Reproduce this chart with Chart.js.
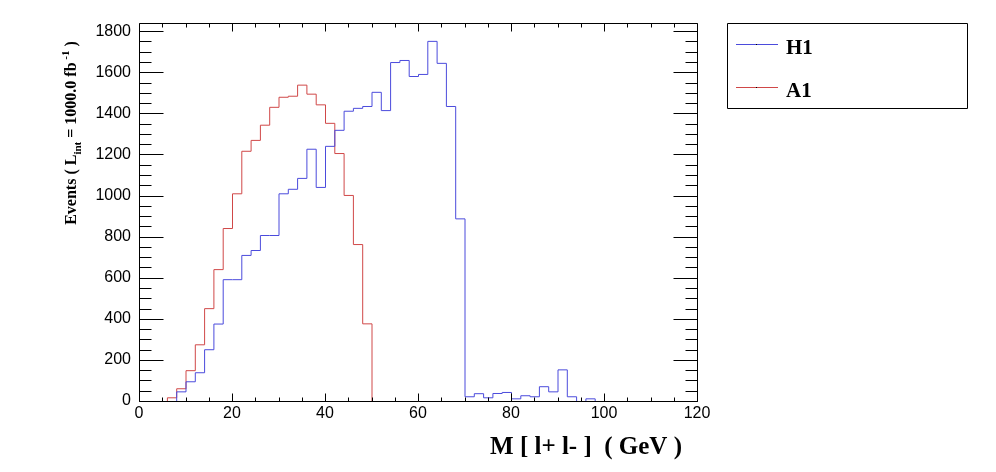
<!DOCTYPE html>
<html>
<head>
<meta charset="utf-8">
<script src="https://cdn.jsdelivr.net/npm/chart.js@4.4.1/dist/chart.umd.min.js"></script>
<style>
html,body{margin:0;padding:0;background:#fff;}
#wrap{width:996px;height:472px;position:relative;}
</style>
</head>
<body>
<div id="wrap"><canvas id="c" width="996" height="472"></canvas></div>
<script>
// Bin lower edges (GeV), bin width 2
const binLow = [0,2,4,6,8,10,12,14,16,18,20,22,24,26,28,30,32,34,36,38,40,42,44,46,48,50,52,54,56,58,
                60,62,64,66,68,70,72,74,76,78,80,82,84,86,88,90,92,94,96,98,100,102,104,106,108,110,112,114,116,118];
const xUpper = 120;
// H1 events per bin
const h1Values = [0,0,0,0,47,96,140,252,377,593,593,711,735,808,808,1011,1033,1086,1228,1042,
                  1242,1320,1413,1427,1436,1505,1416,1650,1660,1582,1592,1753,1646,1436,889,23,38,18,39,44,
                  13,28,23,72,47,154,23,0,13,0,0,0,0,0,0,0,0,0,0,0];
// A1 events per bin
const a1Values = [0,0,0,18,62,150,276,452,642,842,1011,1218,1271,1345,1432,1481,1486,1540,1496,1444,
                  1354,1207,1003,764,378,0,0,0,0,0,0,0,0,0,0,0,0,0,0,0,
                  0,0,0,0,0,0,0,0,0,0,0,0,0,0,0,0,0,0,0,0];
const seriesNames = ["H1","A1"];
const xTickValues = [0,20,40,60,80,100,120];
const yTickValues = [0,200,400,600,800,1000,1200,1400,1600,1800];
const yMax = 1840;

const colors = ["#4b4bdc","#d04848"];

function toSteps(vals){
  const pts = binLow.map((x,i)=>({x:x,y:vals[i]}));
  pts.push({x:xUpper,y:vals[vals.length-1]});
  return pts;
}

const crispPlugin = {
  id:'crisp',
  beforeDatasetsDraw(chart){ chart.ctx.save(); chart.ctx.translate(0.5,0.5); },
  afterDatasetsDraw(chart){ chart.ctx.restore(); }
};

const framePlugin = {
  id:'frame',
  afterDraw(chart){
    const ctx = chart.ctx;
    const a = chart.chartArea;
    const xs = chart.scales.x, ys = chart.scales.y;
    const L = Math.round(a.left)+0.5, R = Math.round(a.right)+0.5, T = Math.round(a.top)+0.5, B = Math.round(a.bottom)+0.5;
    ctx.save();
    ctx.strokeStyle = '#000';
    ctx.lineWidth = 1;
    ctx.beginPath();
    ctx.rect(L, T, R-L, B-T);
    ctx.stroke();
    ctx.beginPath();
    for (let i=0;i<xTickValues.length;i++){
      const v = xTickValues[i];
      const px = Math.round(xs.getPixelForValue(v))+0.5;
      ctx.moveTo(px,B); ctx.lineTo(px,B-8);
      ctx.moveTo(px,T); ctx.lineTo(px,T+8);
      if (i<xTickValues.length-1){
        const step=(xTickValues[i+1]-v)/4;
        for(let k=1;k<4;k++){
          const p2 = Math.round(xs.getPixelForValue(v+k*step))+0.5;
          ctx.moveTo(p2,B); ctx.lineTo(p2,B-4);
          ctx.moveTo(p2,T); ctx.lineTo(p2,T+4);
        }
      }
    }
    for (let i=0;i<yTickValues.length;i++){
      const v = yTickValues[i];
      const py = Math.round(ys.getPixelForValue(v))+0.5;
      ctx.moveTo(L,py); ctx.lineTo(L+24,py);
      ctx.moveTo(R,py); ctx.lineTo(R-24,py);
      const step = (yTickValues[1]-yTickValues[0])/4;
      for(let k=1;k<4;k++){
        const vv = v+k*step;
        if (vv>yMax) break;
        const p2 = Math.round(ys.getPixelForValue(vv))+0.5;
        ctx.moveTo(L,p2); ctx.lineTo(L+12,p2);
        ctx.moveTo(R,p2); ctx.lineTo(R-12,p2);
      }
    }
    ctx.stroke();

    // legend
    ctx.beginPath();
    ctx.rect(727.5,23.5,240,85);
    ctx.stroke();
    const ly = [44,87];
    chart.data.datasets.forEach((ds,i)=>{
      ctx.strokeStyle = ds.borderColor;
      ctx.beginPath();
      ctx.moveTo(736,ly[i]+0.5); ctx.lineTo(778,ly[i]+0.5);
      ctx.stroke();
      ctx.fillStyle='#000';
      ctx.fillRect(756,ly[i],1,1);
      ctx.font = 'bold 21px "Liberation Serif"';
      ctx.textAlign='left';
      ctx.textBaseline='alphabetic';
      ctx.fillText(ds.label, 786, ly[i]+10);
    });

    // x title
    ctx.fillStyle='#000';
    ctx.font = 'bold 25px "Liberation Serif"';
    ctx.textAlign='right';
    ctx.textBaseline='alphabetic';
    ctx.fillText('M [ l+ l- ]  ( GeV )', 682, 454);

    // y title with sub/superscript
    const big = 'bold 16px "Liberation Serif"', small = 'bold 11px "Liberation Serif"';
    const parts = [
      {t:'Events ( L', f:big, dy:0},
      {t:'int', f:small, dy:5},
      {t:' = 1000.0 fb', f:big, dy:0},
      {t:' -1', f:small, dy:-7},
      {t:' )', f:big, dy:0}
    ];
    let total = 0;
    parts.forEach(p=>{ctx.font=p.f; p.w=ctx.measureText(p.t).width; total+=p.w;});
    ctx.save();
    ctx.translate(76,133);
    ctx.rotate(-Math.PI/2);
    ctx.textAlign='left';
    let x0 = -total/2;
    parts.forEach(p=>{ctx.font=p.f; ctx.fillText(p.t,x0,p.dy); x0+=p.w;});
    ctx.restore();
    ctx.restore();
  }
};

new Chart(document.getElementById('c'),{
  type:'line',
  data:{
    datasets:[
      {label:seriesNames[0], data:toSteps(h1Values), borderColor:colors[0], borderWidth:1, stepped:'before', pointRadius:0, fill:false, tension:0},
      {label:seriesNames[1], data:toSteps(a1Values), borderColor:colors[1], borderWidth:1, stepped:'before', pointRadius:0, fill:false, tension:0}
    ]
  },
  options:{
    responsive:false,
    animation:false,
    devicePixelRatio:1,
    layout:{padding:{left:0,right:299,top:23,bottom:0}},
    plugins:{legend:{display:false},tooltip:{enabled:false}},
    scales:{
      x:{type:'linear',min:0,max:xUpper,
         grid:{display:false,drawTicks:false},border:{display:false},
         afterBuildTicks(s){s.ticks = xTickValues.map(v=>({value:v}));},
         afterFit(s){s.height=71;},
         ticks:{padding:3,maxRotation:0,autoSkip:false,color:'#000',font:{family:'"Liberation Sans"',size:16},
                callback:(v)=>String(v)}},
      y:{type:'linear',min:0,max:yMax,
         grid:{display:false,drawTicks:false},border:{display:false},
         afterBuildTicks(s){s.ticks = yTickValues.map(v=>({value:v}));},
         afterFit(s){s.width=139;},
         ticks:{padding:8,autoSkip:false,color:'#000',font:{family:'"Liberation Sans"',size:16},
                callback:(v)=>String(v)}}
    }
  },
  plugins:[crispPlugin, framePlugin]
});
</script>
</body>
</html>
